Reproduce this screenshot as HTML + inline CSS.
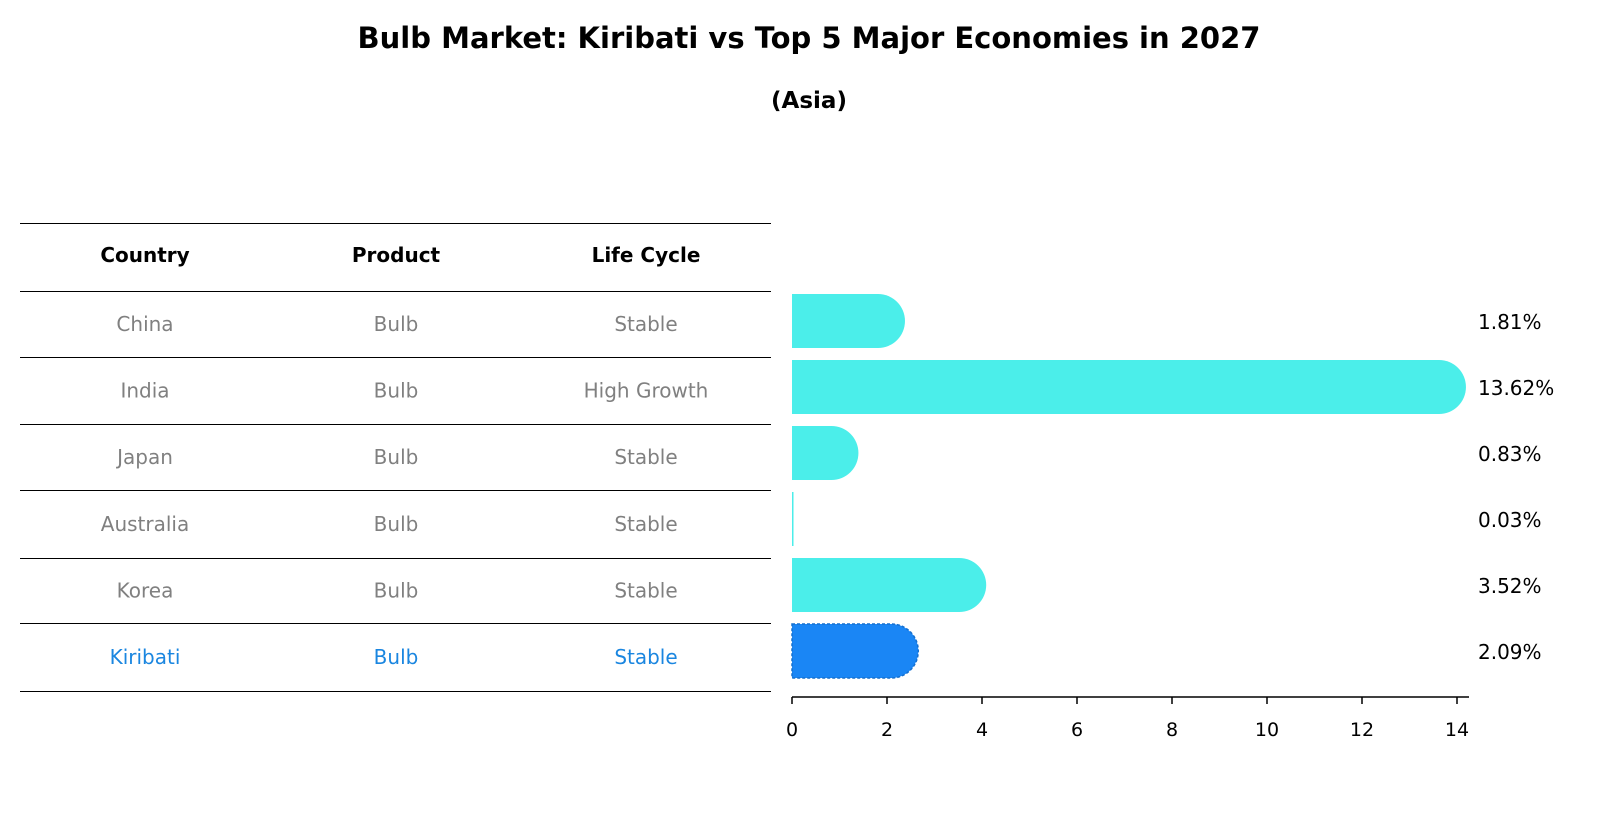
<!DOCTYPE html>
<html><head><meta charset="utf-8"><style>
body{margin:0;background:#fff;font-family:"DejaVu Sans","Liberation Sans",sans-serif}
</style></head><body>
<svg width="1604" height="823" xmlns="http://www.w3.org/2000/svg" font-family="DejaVu Sans, Liberation Sans, sans-serif">
<text x="809" y="48" text-anchor="middle" font-size="29" font-weight="bold">Bulb Market: Kiribati vs Top 5 Major Economies in 2027</text>
<text x="809" y="108" text-anchor="middle" font-size="23" font-weight="bold">(Asia)</text>
<g id="table"></g>
<g id="bars"></g>
</svg>
<script>
const countries=["China","India","Japan","Australia","Korea","Kiribati"];
const products=["Bulb","Bulb","Bulb","Bulb","Bulb","Bulb"];
const lifecycles=["Stable","High Growth","Stable","Stable","Stable","Stable"];
const values=[1.81,13.62,0.83,0.03,3.52,2.09];
const ticks=[0,2,4,6,8,10,12,14];
const NS="http://www.w3.org/2000/svg";
const x0=792,pxu=47.5;
function xs(v){return x0+v*pxu;}
function yc(i){return 651-(countries.length-1-i)*66;}
function mk(tag,attrs,parent){const e=document.createElementNS(NS,tag);for(const k in attrs)e.setAttribute(k,attrs[k]);parent.appendChild(e);return e;}
const tb=document.getElementById('table'),bg=document.getElementById('bars');
const lines=[223,291,357,424,490,558,623,691];
lines.forEach(y=>{const l=mk('line',{x1:20,x2:771,y1:y+0.5,y2:y+0.5,stroke:'#000','stroke-width':1},tb);

});
const cx=[145,396,646];
["Country","Product","Life Cycle"].forEach((h,j)=>{const t=mk('text',{x:cx[j],y:262,'text-anchor':'middle','font-size':20,'font-weight':'bold'},tb);t.textContent=h;

});
countries.forEach((c,i)=>{
 const ty=(lines[i+1]+lines[i+2])/2+7;
 const col=c==="Kiribati"?"#1a86e0":"#808080";
 [c,products[i],lifecycles[i]].forEach((s,j)=>{const t=mk('text',{x:cx[j],y:ty,'text-anchor':'middle','font-size':20,fill:col},tb);t.textContent=s;
 
 });
 const y=yc(i),h=54,r=27,xe=xs(values[i]);
 const kir=c==="Kiribati";
 const fill=kir?"#1a86f5":"#4beeea";
 const w=xe-x0;
 let d;
 if(w>=r){d=`M${x0},${y-h/2} H${xe} A${r},${r} 0 0 1 ${xe},${y+h/2} H${x0} Z`;}
 else{const ww=Math.max(w,1.5);d=`M${x0},${y-h/2} H${x0+ww} V${y+h/2} H${x0} Z`;}
 const p=mk('path',{d:d,fill:fill},bg);
 if(kir){p.setAttribute('stroke','#1570d0');p.setAttribute('stroke-dasharray','3,2');p.setAttribute('stroke-width','1.5');}
 
 
 const t=mk('text',{x:1478,y:y+8,'font-size':20},bg);t.textContent=values[i].toFixed(2)+'%';
 
 
});
const ax=mk('line',{x1:x0,x2:1469,y1:697,y2:697,stroke:'#000','stroke-width':1.5},bg);


ticks.forEach(v=>{const l=mk('line',{x1:xs(v),x2:xs(v),y1:697,y2:704,stroke:'#000','stroke-width':1.5},bg);


const t=mk('text',{x:xs(v),y:736,'text-anchor':'middle','font-size':19},bg);t.textContent=v;

});
</script>
</body></html>
